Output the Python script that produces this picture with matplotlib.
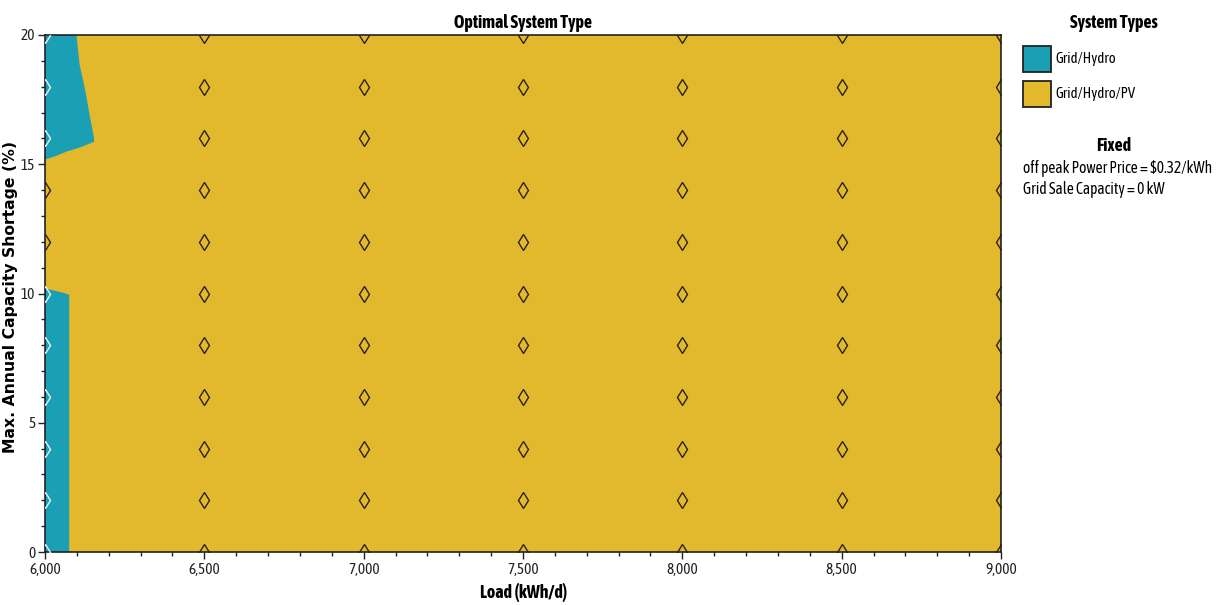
import matplotlib
matplotlib.use("Agg")
import matplotlib.pyplot as plt
from matplotlib.patches import Rectangle
from matplotlib.ticker import MultipleLocator, FuncFormatter
from matplotlib.path import Path
from matplotlib import font_manager

# pick a condensed family (prefer one that has a bold face)
fams = {}
for f in font_manager.fontManager.ttflist:
    if "Narrow" in f.name or "Condensed" in f.name:
        w = f.weight if isinstance(f.weight, int) else (700 if "bold" in str(f.weight).lower() else 400)
        fams.setdefault(f.name, set()).add(w)
with_bold = sorted(n for n, ws in fams.items() if any(w >= 600 for w in ws) and any(w <= 500 for w in ws))
COND = with_bold[0] if with_bold else (sorted(fams)[0] if fams else "Liberation Sans")
plt.rcParams['font.family'] = [COND, 'DejaVu Sans']

# Data
loads = [6000, 6500, 7000, 7500, 8000, 8500, 9000]          # kWh/d sensitivity points
shortages = [0, 2, 4, 6, 8, 10, 12, 14, 16, 18, 20]          # % sensitivity points
system_types = ["Grid/Hydro", "Grid/Hydro/PV"]
type_colors = ["#1A9FB4", "#E2B92C"]

# Grid/Hydro optimal regions (boundary of region)
upper_region_load = [6000, 6099, 6108, 6126, 6141, 6154, 6154, 6110, 6068, 6030, 6000]
upper_region_short = [20.0, 20.0, 18.9, 17.87, 16.84, 16.0, 15.87, 15.65, 15.49, 15.3, 15.18]
lower_region_load = [6000, 6076, 6076, 6060, 6040, 6020, 6000]
lower_region_short = [0.0, 0.0, 9.95, 10.02, 10.08, 10.14, 10.2]

fixed_lines = ["off peak Power Price = $0.32/kWh", "Grid Sale Capacity = 0 kW"]

W, H = 1216, 605
fig = plt.figure(figsize=(W / 100, H / 100), dpi=100)
ax = fig.add_axes([45/W, 1-552/H, (1001-45)/W, (552-35)/H])

ax.set_xlim(loads[0], loads[-1])
ax.set_ylim(shortages[0], shortages[-1])
ax.set_facecolor(type_colors[1])
ax.fill(upper_region_load, upper_region_short, color=type_colors[0], lw=0, zorder=1)
ax.fill(lower_region_load, lower_region_short, color=type_colors[0], lw=0, zorder=1)

up = Path(list(zip(upper_region_load, upper_region_short)))
lo = Path(list(zip(lower_region_load, lower_region_short)))
for L in loads:
    for S in shortages:
        inside = up.contains_point((L + 1, min(S, 19.99))) or lo.contains_point((L + 1, max(S, 0.01)))
        ec = "#E8F4F8" if inside else "#2A2214"
        ax.plot(L, S, marker="d", ms=8, mfc="none", mec=ec, mew=1.0, zorder=3, clip_on=True)

ax.xaxis.set_major_locator(MultipleLocator(500))
ax.xaxis.set_minor_locator(MultipleLocator(100))
ax.yaxis.set_major_locator(MultipleLocator(5))
ax.yaxis.set_minor_locator(MultipleLocator(1))
ax.xaxis.set_major_formatter(FuncFormatter(lambda v, p: f"{int(v):,}"))
ax.yaxis.set_major_formatter(FuncFormatter(lambda v, p: f"{int(v)}"))
ax.tick_params(axis="both", which="major", length=5, width=1, labelsize=12, colors="#222222", pad=3)
ax.tick_params(axis="y", which="major", pad=2)
ax.tick_params(axis="both", which="minor", length=3, width=1, colors="#222222")
for s in ax.spines.values():
    s.set_linewidth(1.2)
    s.set_color("#222222")

title = fig.text(523/W, 1-23/H, "Optimal System Type", ha="center", va="center", fontsize=12, fontweight="bold")
xlab = fig.text(524/W, 1-593/H, "Load (kWh/d)", ha="center", va="center", fontsize=12, fontweight="bold")
ylab = fig.text(11/W, 1-297/H, "Max. Annual Capacity Shortage (%)", ha="center", va="center", rotation=90,
                fontsize=12, fontweight="bold", family=["DejaVu Sans"])

# Legend panel
leg_title = fig.text(1114/W, 1-23/H, "System Types", ha="center", va="center", fontsize=12, fontweight="bold")
leg_texts = []
for i, (name, col) in enumerate(zip(system_types, type_colors)):
    y0 = 46 + i * 35
    fig.patches.append(Rectangle((1023/W, 1-(y0+26)/H), 28/W, 26/H,
                                 transform=fig.transFigure, facecolor=col, edgecolor="#222222", lw=1.3))
    leg_texts.append(fig.text(1055/W, 1-(y0+13)/H, name, ha="left", va="center", fontsize=11))
fixed_title = fig.text(1114/W, 1-146/H, "Fixed", ha="center", va="center", fontsize=12, fontweight="bold")
fixed_texts = []
for i, line in enumerate(fixed_lines):
    fixed_texts.append(fig.text(1023/W, 1-(168+21*i)/H, line, ha="left", va="center", fontsize=11))

# fit text sizes to the widths measured on the reference
fig.canvas.draw()
r = fig.canvas.get_renderer()
def fitted(t, target, vertical=False):
    ext = t.get_window_extent(r)
    cur = ext.height if vertical else ext.width
    return t.get_fontsize() * target / cur

bold_fs = fitted(title, 138)
for t in (title, xlab, leg_title, fixed_title):
    t.set_fontsize(bold_fs)
ylab.set_fontsize(fitted(ylab, 310, vertical=True))
item_fs = fitted(leg_texts[1], 80)
for t in leg_texts:
    t.set_fontsize(item_fs)
fixed_fs = fitted(fixed_texts[0], 190)
for t in fixed_texts:
    t.set_fontsize(fixed_fs)

# tick labels: a bit larger than a pure width fit so their height resembles the reference
lbl = [t for t in ax.get_xticklabels() if t.get_text() == "7,500"]
if lbl:
    w = lbl[0].get_window_extent(r).width
    ax.tick_params(axis="both", which="major", labelsize=12 * 27 / w * 1.15)

fig.savefig("out.png", dpi=100)
